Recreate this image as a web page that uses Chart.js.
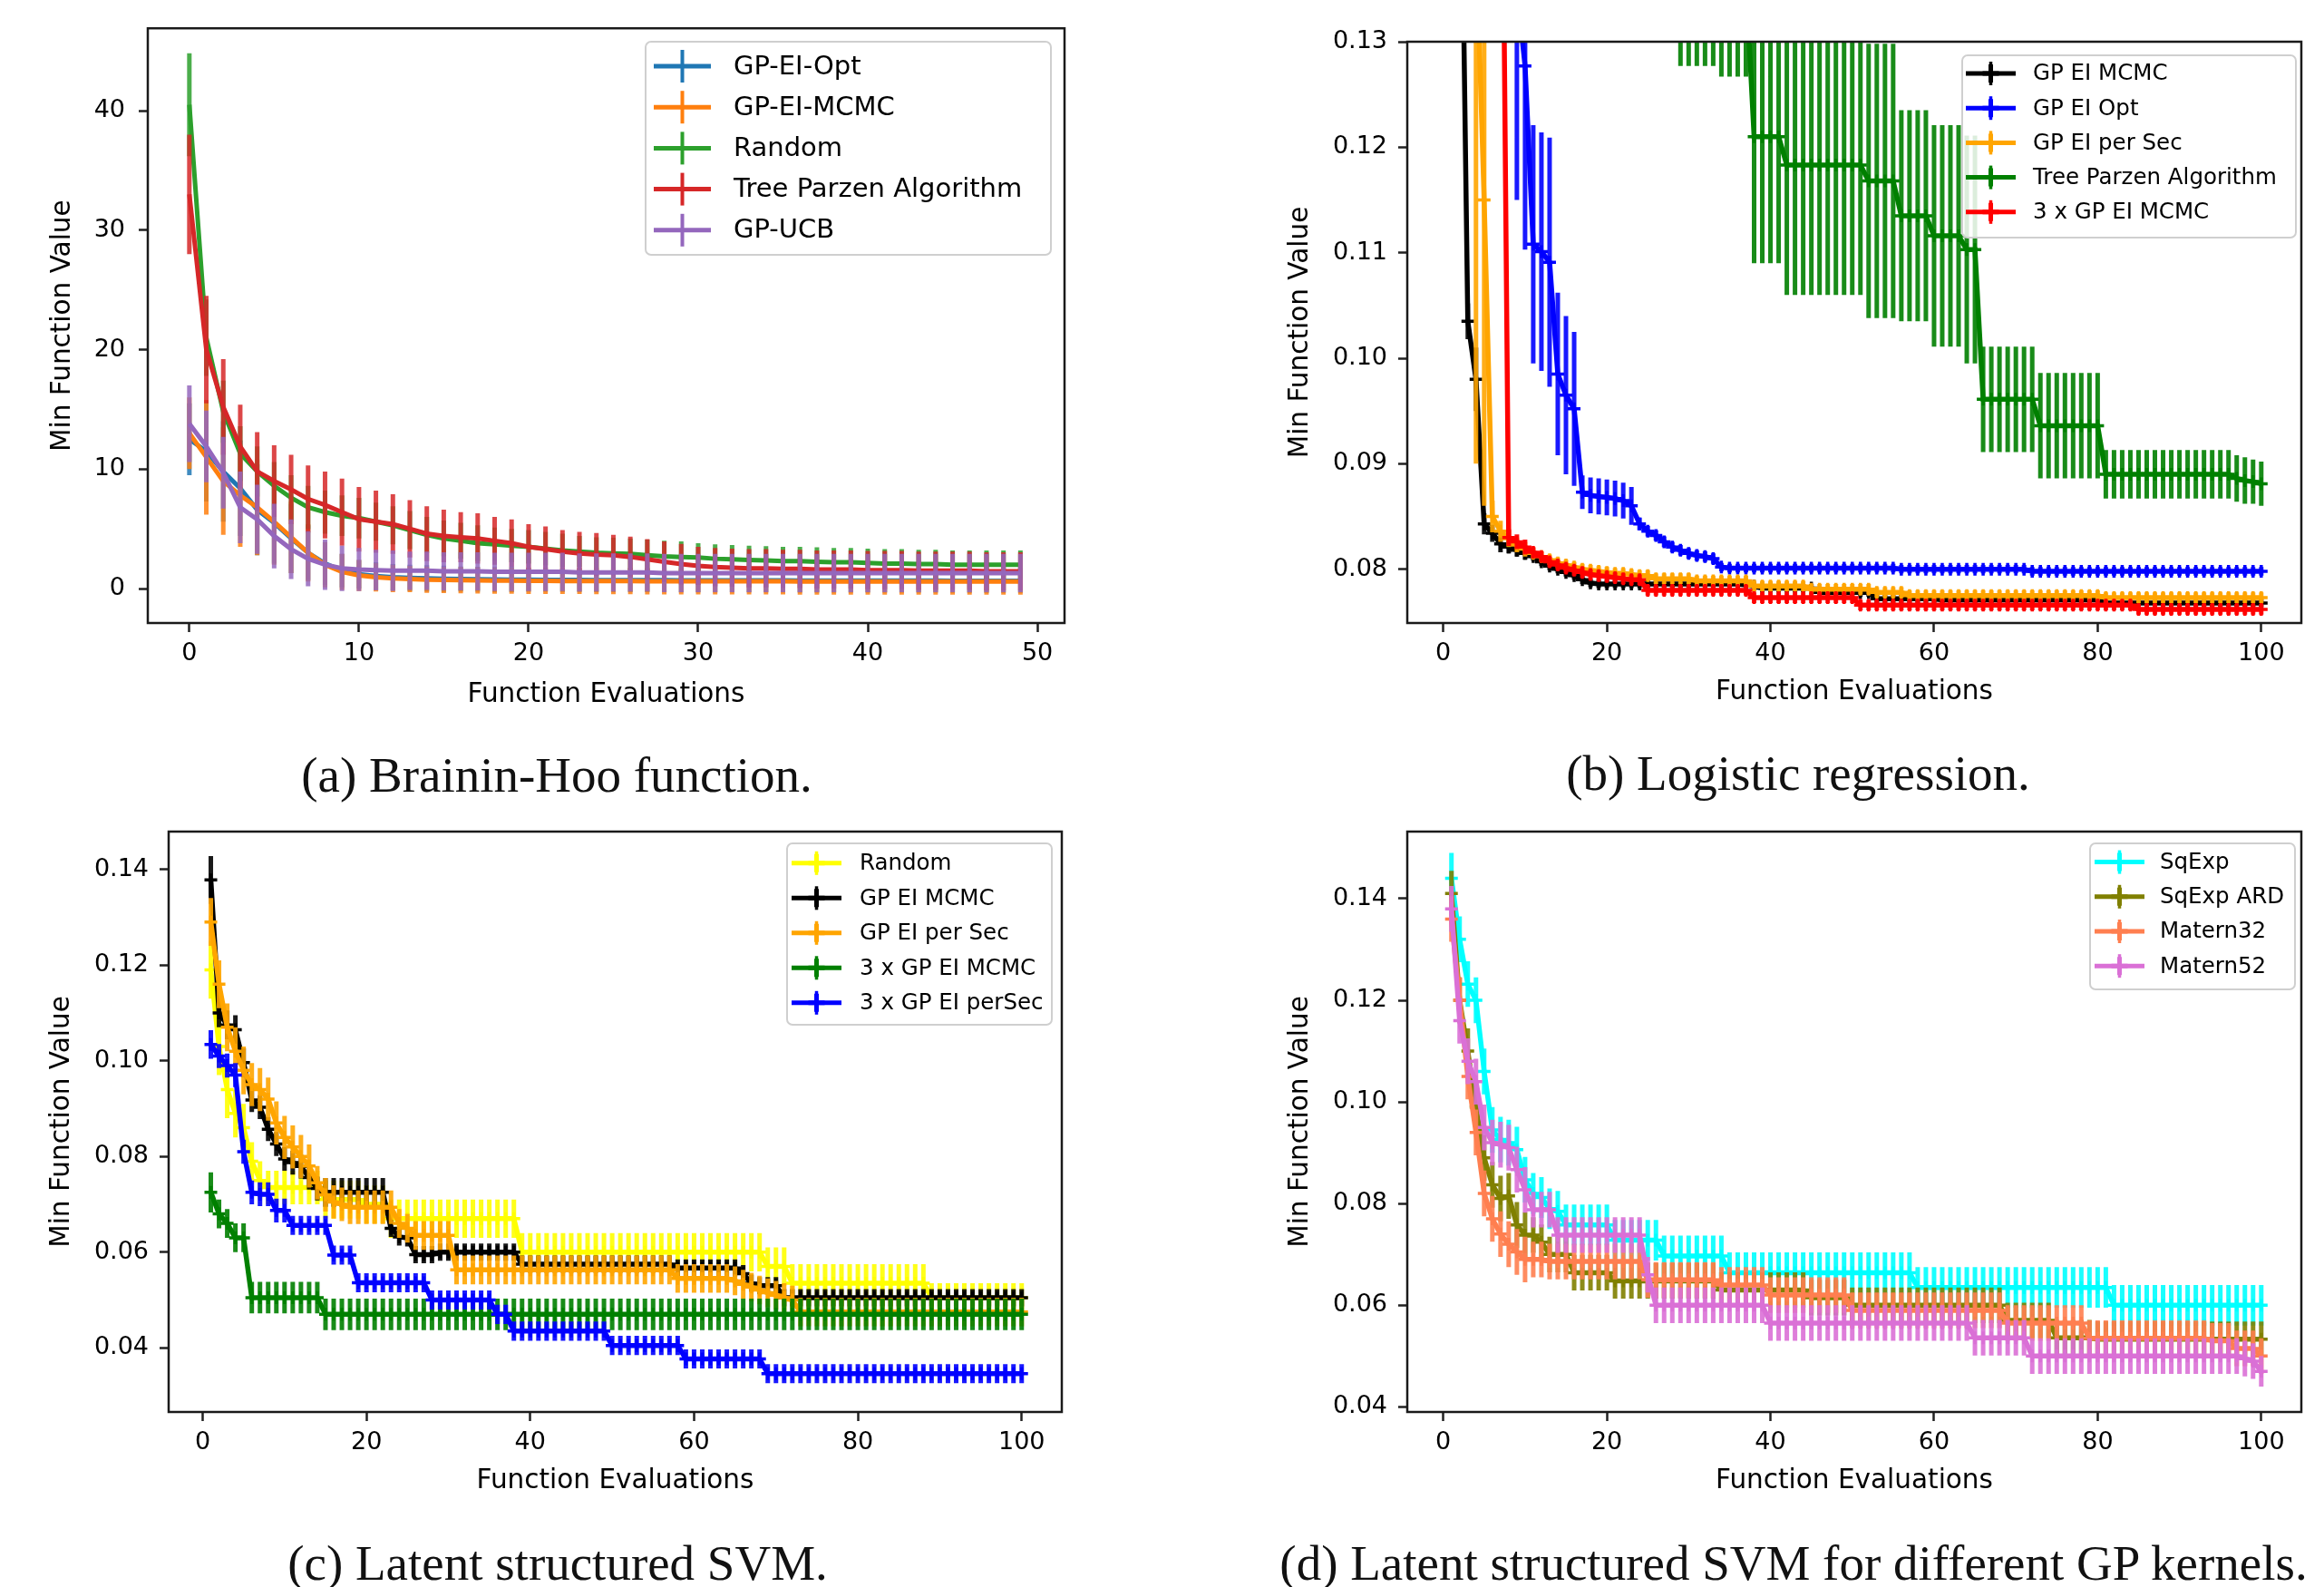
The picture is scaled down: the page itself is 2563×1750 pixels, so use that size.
<!DOCTYPE html>
<html>
<head>
<meta charset="utf-8">
<script src="https://cdn.jsdelivr.net/npm/chart.js@4.4.1/dist/chart.umd.min.js"></script>
<style>
  html, body { margin: 0; padding: 0; background: #fff; }
  body { width: 2563px; height: 1750px; position: relative; overflow: hidden; }
  canvas { position: absolute; }
  .cap { position: absolute; font-family: 'Liberation Serif', serif; font-size: 55px; line-height: 64px; white-space: nowrap; transform: translateX(-50%); color: #111; }
</style>
</head>
<body>
<canvas id="chartA" width="1230" height="810" style="left:0;top:0"></canvas>
<canvas id="chartB" width="1263" height="810" style="left:1300px;top:0"></canvas>
<canvas id="chartC" width="1230" height="810" style="left:0;top:880px"></canvas>
<canvas id="chartD" width="1263" height="810" style="left:1300px;top:880px"></canvas>
<div class="cap" style="left:614px;top:823px">(a) Brainin-Hoo function.</div>
<div class="cap" style="left:1983px;top:821px">(b) Logistic regression.</div>
<div class="cap" style="left:615px;top:1692px">(c) Latent structured SVM.</div>
<div class="cap" style="left:1978px;top:1692px">(d) Latent structured SVM for different GP kernels.</div>
<script>
// ---- shared axis data
const evalsA = [
  0, 1, 2, 3, 4, 5, 6, 7, 8, 9,
  10, 11, 12, 13, 14, 15, 16, 17, 18, 19,
  20, 21, 22, 23, 24, 25, 26, 27, 28, 29,
  30, 31, 32, 33, 34, 35, 36, 37, 38, 39,
  40, 41, 42, 43, 44, 45, 46, 47, 48, 49];
const evalsN = [
  1, 2, 3, 4, 5, 6, 7, 8, 9, 10,
  11, 12, 13, 14, 15, 16, 17, 18, 19, 20,
  21, 22, 23, 24, 25, 26, 27, 28, 29, 30,
  31, 32, 33, 34, 35, 36, 37, 38, 39, 40,
  41, 42, 43, 44, 45, 46, 47, 48, 49, 50,
  51, 52, 53, 54, 55, 56, 57, 58, 59, 60,
  61, 62, 63, 64, 65, 66, 67, 68, 69, 70,
  71, 72, 73, 74, 75, 76, 77, 78, 79, 80,
  81, 82, 83, 84, 85, 86, 87, 88, 89, 90,
  91, 92, 93, 94, 95, 96, 97, 98, 99, 100];

const xTicksA = [0, 10, 20, 30, 40, 50];
const yTicksA = [0, 10, 20, 30, 40];
const xTicksN = [0, 20, 40, 60, 80, 100];
const yTicksB = [0.08, 0.09, 0.10, 0.11, 0.12, 0.13];
const yTicksC = [0.04, 0.06, 0.08, 0.10, 0.12, 0.14];
const yTicksD = [0.04, 0.06, 0.08, 0.10, 0.12, 0.14];

// ---- (a) Brainin-Hoo
const optA = [
  12.5, 11.5, 9.8, 8.4, 6.6, 5.5, 4.2, 3.0, 2.1, 1.5,
  1.2, 1.05, 0.95, 0.9, 0.85, 0.82, 0.8, 0.78, 0.76, 0.75,
  0.74, 0.73, 0.72, 0.72, 0.71, 0.71, 0.7, 0.7, 0.7, 0.69,
  0.69, 0.69, 0.68, 0.68, 0.68, 0.68, 0.67, 0.67, 0.67, 0.67,
  0.66, 0.66, 0.66, 0.66, 0.66, 0.65, 0.65, 0.65, 0.65, 0.65];
const optErrA = [
  3.0, 4.2, 4.2, 4.0, 3.8, 3.4, 2.9, 2.3, 1.8, 1.4,
  1.2, 1.15, 1.1, 1.1, 1.1, 1.1, 1.05, 1.05, 1.05, 1.05,
  1.0, 1.0, 1.0, 1.0, 1.0, 1.0, 1.0, 1.0, 1.0, 1.0,
  1.0, 1.0, 1.0, 1.0, 1.0, 1.0, 1.0, 1.0, 1.0, 1.0,
  1.0, 1.0, 1.0, 1.0, 1.0, 1.0, 1.0, 1.0, 1.0, 1.0];
const mcmcA = [
  13.0, 11.0, 9.0, 7.8, 6.8, 5.6, 4.3, 3.0, 2.0, 1.4,
  1.1, 0.95, 0.85, 0.8, 0.75, 0.72, 0.7, 0.68, 0.67, 0.66,
  0.65, 0.65, 0.64, 0.64, 0.63, 0.63, 0.63, 0.62, 0.62, 0.62,
  0.62, 0.61, 0.61, 0.61, 0.61, 0.61, 0.6, 0.6, 0.6, 0.6,
  0.6, 0.6, 0.6, 0.6, 0.6, 0.6, 0.6, 0.6, 0.6, 0.6];
const mcmcErrA = [
  3.0, 4.8, 4.5, 4.3, 4.0, 3.6, 3.0, 2.4, 1.9, 1.5,
  1.3, 1.2, 1.15, 1.1, 1.1, 1.1, 1.1, 1.1, 1.1, 1.1,
  1.1, 1.1, 1.1, 1.1, 1.1, 1.1, 1.1, 1.1, 1.1, 1.1,
  1.1, 1.1, 1.1, 1.1, 1.1, 1.1, 1.1, 1.1, 1.1, 1.1,
  1.1, 1.1, 1.1, 1.1, 1.1, 1.1, 1.1, 1.1, 1.1, 1.1];
const randomA = [
  40.5, 21.0, 14.8, 11.3, 9.8, 8.6, 7.6, 6.8, 6.4, 6.1,
  5.9, 5.6, 5.3, 4.9, 4.5, 4.2, 4.0, 3.8, 3.7, 3.6,
  3.5, 3.35, 3.2, 3.1, 3.0, 2.95, 2.9, 2.8, 2.7, 2.65,
  2.6, 2.5, 2.45, 2.4, 2.35, 2.3, 2.3, 2.25, 2.2, 2.2,
  2.15, 2.1, 2.1, 2.05, 2.05, 2.0, 2.0, 2.0, 2.0, 2.0];
const randomErrA = [
  4.3, 3.2, 2.6, 2.3, 2.1, 2.0, 1.9, 1.8, 1.8, 1.7,
  1.7, 1.6, 1.6, 1.6, 1.5, 1.5, 1.5, 1.5, 1.4, 1.4,
  1.4, 1.4, 1.4, 1.3, 1.3, 1.3, 1.3, 1.3, 1.3, 1.3,
  1.2, 1.2, 1.2, 1.2, 1.2, 1.2, 1.2, 1.2, 1.2, 1.2,
  1.2, 1.2, 1.2, 1.2, 1.2, 1.2, 1.2, 1.2, 1.2, 1.2];
const tpaA = [
  33.0, 20.0, 15.2, 11.9, 9.8, 9.0, 8.3, 7.5, 7.0, 6.4,
  5.8, 5.6, 5.4, 5.0, 4.6, 4.4, 4.3, 4.2, 4.0, 3.8,
  3.5, 3.3, 3.1, 2.95, 2.85, 2.8, 2.65, 2.45, 2.25, 2.05,
  1.9, 1.8, 1.75, 1.7, 1.7, 1.65, 1.65, 1.6, 1.6, 1.6,
  1.55, 1.55, 1.55, 1.5, 1.5, 1.5, 1.5, 1.45, 1.45, 1.45];
const tpaErrA = [
  5.0, 4.5, 4.0, 3.5, 3.3, 3.0, 2.9, 2.8, 2.8, 2.8,
  2.7, 2.6, 2.5, 2.4, 2.3, 2.2, 2.1, 2.1, 2.0, 2.0,
  1.9, 1.9, 1.8, 1.8, 1.8, 1.7, 1.7, 1.7, 1.7, 1.7,
  1.6, 1.6, 1.6, 1.6, 1.6, 1.6, 1.6, 1.6, 1.6, 1.6,
  1.6, 1.6, 1.6, 1.6, 1.6, 1.6, 1.6, 1.6, 1.6, 1.6];
const ucbA = [
  13.8, 11.9, 9.7, 6.8, 5.8, 4.4, 3.3, 2.5, 2.0, 1.7,
  1.6, 1.55, 1.5, 1.5, 1.5, 1.45, 1.45, 1.45, 1.4, 1.4,
  1.4, 1.4, 1.4, 1.35, 1.35, 1.35, 1.35, 1.35, 1.3, 1.3,
  1.3, 1.3, 1.3, 1.3, 1.3, 1.3, 1.3, 1.3, 1.3, 1.3,
  1.3, 1.3, 1.3, 1.3, 1.3, 1.3, 1.3, 1.3, 1.3, 1.3];
const ucbErrA = [
  3.2, 3.0, 3.0, 3.0, 2.9, 2.7, 2.5, 2.3, 2.1, 1.9,
  1.8, 1.7, 1.7, 1.6, 1.6, 1.6, 1.6, 1.6, 1.6, 1.6,
  1.6, 1.6, 1.6, 1.6, 1.6, 1.6, 1.6, 1.6, 1.6, 1.6,
  1.6, 1.6, 1.6, 1.6, 1.6, 1.6, 1.6, 1.6, 1.6, 1.6,
  1.6, 1.6, 1.6, 1.6, 1.6, 1.6, 1.6, 1.6, 1.6, 1.6];

// ---- (b) Logistic regression
const mcmcB = [
  0.200, 0.160, 0.1035, 0.0980, 0.0843, 0.0834, 0.0824, 0.0821, 0.0818, 0.0815,
  0.0812, 0.0807, 0.0803, 0.0800, 0.0797, 0.0794, 0.0790, 0.0787, 0.0786, 0.0786,
  0.0786, 0.0786, 0.0786, 0.0786, 0.0786, 0.0786, 0.0786, 0.0786, 0.0786, 0.0786,
  0.0786, 0.0786, 0.0786, 0.0786, 0.0786, 0.0786, 0.0785, 0.0784, 0.0782, 0.0782,
  0.0782, 0.0782, 0.0782, 0.0782, 0.0782, 0.0778, 0.0778, 0.0778, 0.0778, 0.0778,
  0.0778, 0.0778, 0.0772, 0.0772, 0.0772, 0.0772, 0.0772, 0.0772, 0.0772, 0.0772,
  0.0771, 0.0771, 0.0771, 0.0771, 0.0771, 0.0771, 0.0771, 0.0771, 0.0771, 0.0771,
  0.0771, 0.0771, 0.0771, 0.0771, 0.0771, 0.0771, 0.0771, 0.0771, 0.0771, 0.0771,
  0.0768, 0.0768, 0.0768, 0.0768, 0.0768, 0.0768, 0.0768, 0.0768, 0.0768, 0.0768,
  0.0768, 0.0768, 0.0768, 0.0768, 0.0768, 0.0768, 0.0768, 0.0768, 0.0768, 0.0768];
const mcmcErrB = [
  0.03, 0.02, 0.0017, 0.003, 0.001, 0.0008, 0.0008, 0.0006, 0.0006, 0.0006,
  0.0004, 0.0004, 0.0004, 0.0004, 0.0004, 0.0004, 0.0004, 0.0004, 0.0004, 0.0004,
  0.0004, 0.0004, 0.0004, 0.0004, 0.0004, 0.0004, 0.0004, 0.0004, 0.0004, 0.0004,
  0.0004, 0.0004, 0.0004, 0.0004, 0.0004, 0.0004, 0.0004, 0.0004, 0.0004, 0.0004,
  0.0004, 0.0004, 0.0004, 0.0004, 0.0004, 0.0004, 0.0004, 0.0004, 0.0004, 0.0004,
  0.0004, 0.0004, 0.0004, 0.0004, 0.0004, 0.0004, 0.0004, 0.0004, 0.0004, 0.0004,
  0.0004, 0.0004, 0.0004, 0.0004, 0.0004, 0.0004, 0.0004, 0.0004, 0.0004, 0.0004,
  0.0004, 0.0004, 0.0004, 0.0004, 0.0004, 0.0004, 0.0004, 0.0004, 0.0004, 0.0004,
  0.0004, 0.0004, 0.0004, 0.0004, 0.0004, 0.0004, 0.0004, 0.0004, 0.0004, 0.0004,
  0.0004, 0.0004, 0.0004, 0.0004, 0.0004, 0.0004, 0.0004, 0.0004, 0.0004, 0.0004];
const optB = [
  0.250, 0.240, 0.230, 0.220, 0.205, 0.190, 0.175, 0.155, 0.135, 0.1277,
  0.1108, 0.1101, 0.1091, 0.0985, 0.0965, 0.0952, 0.0873, 0.0870, 0.0869, 0.0868,
  0.0867, 0.0865, 0.0860, 0.0843, 0.0836, 0.0832, 0.0826, 0.0821, 0.0818, 0.0815,
  0.0813, 0.0812, 0.0810, 0.0802, 0.0801, 0.0801, 0.0801, 0.0801, 0.0801, 0.0801,
  0.0801, 0.0801, 0.0801, 0.0801, 0.0801, 0.0801, 0.0801, 0.0801, 0.0801, 0.0801,
  0.0801, 0.0801, 0.0801, 0.0801, 0.0801, 0.0800, 0.0800, 0.0800, 0.0800, 0.0800,
  0.0800, 0.0800, 0.0800, 0.0800, 0.0800, 0.0800, 0.0800, 0.0800, 0.0800, 0.0800,
  0.0800, 0.0798, 0.0798, 0.0798, 0.0798, 0.0798, 0.0798, 0.0798, 0.0798, 0.0798,
  0.0798, 0.0798, 0.0798, 0.0798, 0.0798, 0.0798, 0.0798, 0.0798, 0.0798, 0.0798,
  0.0798, 0.0798, 0.0798, 0.0798, 0.0798, 0.0798, 0.0798, 0.0798, 0.0798, 0.0798];
const optErrB = [
  0.02, 0.02, 0.02, 0.02, 0.02, 0.02, 0.02, 0.02, 0.0200, 0.0174,
  0.0113, 0.0113, 0.0118, 0.0077, 0.0075, 0.0073, 0.0016, 0.0017, 0.0017, 0.0017,
  0.0017, 0.0017, 0.0018, 0.0006, 0.0005, 0.0005, 0.0005, 0.0005, 0.0005, 0.0005,
  0.0005, 0.0005, 0.0005, 0.0004, 0.0004, 0.0004, 0.0004, 0.0004, 0.0004, 0.0004,
  0.0004, 0.0004, 0.0004, 0.0004, 0.0004, 0.0004, 0.0004, 0.0004, 0.0004, 0.0004,
  0.0004, 0.0004, 0.0004, 0.0004, 0.0004, 0.0004, 0.0004, 0.0004, 0.0004, 0.0004,
  0.0004, 0.0004, 0.0004, 0.0004, 0.0004, 0.0004, 0.0004, 0.0004, 0.0004, 0.0004,
  0.0004, 0.0004, 0.0004, 0.0004, 0.0004, 0.0004, 0.0004, 0.0004, 0.0004, 0.0004,
  0.0004, 0.0004, 0.0004, 0.0004, 0.0004, 0.0004, 0.0004, 0.0004, 0.0004, 0.0004,
  0.0004, 0.0004, 0.0004, 0.0004, 0.0004, 0.0004, 0.0004, 0.0004, 0.0004, 0.0004];
const perSecB = [
  0.250, 0.220, 0.180, 0.140, 0.115, 0.0850, 0.0836, 0.0829, 0.0823, 0.0819,
  0.0815, 0.0812, 0.0809, 0.0806, 0.0804, 0.0802, 0.0800, 0.0799, 0.0798, 0.0797,
  0.0796, 0.0796, 0.0795, 0.0794, 0.0794, 0.0791, 0.0791, 0.0791, 0.0791, 0.0791,
  0.0789, 0.0789, 0.0789, 0.0789, 0.0789, 0.0789, 0.0789, 0.0784, 0.0784, 0.0784,
  0.0784, 0.0784, 0.0784, 0.0784, 0.0781, 0.0781, 0.0781, 0.0781, 0.0781, 0.0781,
  0.0781, 0.0781, 0.0778, 0.0778, 0.0778, 0.0778, 0.0775, 0.0775, 0.0775, 0.0775,
  0.0775, 0.0775, 0.0775, 0.0775, 0.0775, 0.0775, 0.0775, 0.0775, 0.0775, 0.0775,
  0.0775, 0.0775, 0.0775, 0.0775, 0.0775, 0.0775, 0.0775, 0.0775, 0.0775, 0.0775,
  0.0773, 0.0773, 0.0773, 0.0773, 0.0773, 0.0773, 0.0773, 0.0773, 0.0773, 0.0773,
  0.0773, 0.0773, 0.0773, 0.0773, 0.0773, 0.0773, 0.0773, 0.0773, 0.0773, 0.0773];
const perSecErrB = [
  0.05, 0.05, 0.05, 0.05, 0.029, 0.0015, 0.0010, 0.0008, 0.0007, 0.0007,
  0.0005, 0.0005, 0.0005, 0.0005, 0.0005, 0.0005, 0.0005, 0.0005, 0.0005, 0.0005,
  0.0005, 0.0005, 0.0005, 0.0005, 0.0005, 0.0005, 0.0005, 0.0005, 0.0005, 0.0005,
  0.0005, 0.0005, 0.0005, 0.0005, 0.0005, 0.0005, 0.0005, 0.0005, 0.0005, 0.0005,
  0.0005, 0.0005, 0.0005, 0.0005, 0.0005, 0.0005, 0.0005, 0.0005, 0.0005, 0.0005,
  0.0005, 0.0005, 0.0005, 0.0005, 0.0005, 0.0005, 0.0005, 0.0005, 0.0005, 0.0005,
  0.0005, 0.0005, 0.0005, 0.0005, 0.0005, 0.0005, 0.0005, 0.0005, 0.0005, 0.0005,
  0.0005, 0.0005, 0.0005, 0.0005, 0.0005, 0.0005, 0.0005, 0.0005, 0.0005, 0.0005,
  0.0005, 0.0005, 0.0005, 0.0005, 0.0005, 0.0005, 0.0005, 0.0005, 0.0005, 0.0005,
  0.0005, 0.0005, 0.0005, 0.0005, 0.0005, 0.0005, 0.0005, 0.0005, 0.0005, 0.0005];
const tpaB = [
  0.170, 0.170, 0.170, 0.170, 0.170, 0.170, 0.170, 0.170, 0.170, 0.170,
  0.160, 0.160, 0.160, 0.160, 0.160, 0.160, 0.160, 0.160, 0.160, 0.160,
  0.150, 0.150, 0.150, 0.150, 0.150, 0.150, 0.150, 0.150, 0.1370, 0.1370,
  0.1370, 0.1370, 0.1370, 0.1360, 0.1360, 0.1360, 0.1360, 0.1210, 0.1210, 0.1210,
  0.1210, 0.1183, 0.1183, 0.1183, 0.1183, 0.1183, 0.1183, 0.1183, 0.1183, 0.1183,
  0.1183, 0.1168, 0.1168, 0.1168, 0.1168, 0.1135, 0.1135, 0.1135, 0.1135, 0.1116,
  0.1116, 0.1116, 0.1116, 0.1103, 0.1103, 0.0961, 0.0961, 0.0961, 0.0961, 0.0961,
  0.0961, 0.0961, 0.0936, 0.0936, 0.0936, 0.0936, 0.0936, 0.0936, 0.0936, 0.0936,
  0.0890, 0.0890, 0.0890, 0.0890, 0.0890, 0.0890, 0.0890, 0.0890, 0.0890, 0.0890,
  0.0890, 0.0890, 0.0890, 0.0890, 0.0890, 0.0890, 0.0886, 0.0884, 0.0883, 0.0881];
const tpaErrB = [
  0.012, 0.012, 0.012, 0.012, 0.012, 0.012, 0.012, 0.012, 0.012, 0.012,
  0.012, 0.012, 0.012, 0.012, 0.012, 0.012, 0.012, 0.012, 0.012, 0.012,
  0.012, 0.012, 0.012, 0.012, 0.012, 0.012, 0.012, 0.012, 0.0093, 0.0093,
  0.0093, 0.0093, 0.0093, 0.0093, 0.0093, 0.0093, 0.0093, 0.012, 0.012, 0.012,
  0.012, 0.0123, 0.0123, 0.0123, 0.0123, 0.0123, 0.0123, 0.0123, 0.0123, 0.0123,
  0.0123, 0.0130, 0.0130, 0.0130, 0.0130, 0.0100, 0.0100, 0.0100, 0.0100, 0.0105,
  0.0105, 0.0105, 0.0105, 0.0108, 0.0108, 0.0050, 0.0050, 0.0050, 0.0050, 0.0050,
  0.0050, 0.0050, 0.0050, 0.0050, 0.0050, 0.0050, 0.0050, 0.0050, 0.0050, 0.0050,
  0.0023, 0.0023, 0.0023, 0.0023, 0.0023, 0.0023, 0.0023, 0.0023, 0.0023, 0.0023,
  0.0023, 0.0023, 0.0023, 0.0023, 0.0023, 0.0023, 0.0022, 0.0022, 0.0021, 0.0021];
const mcmc3B = [
  0.300, 0.280, 0.260, 0.240, 0.220, 0.200, 0.170, 0.0830, 0.0826, 0.0821,
  0.0816, 0.0812, 0.0807, 0.0804, 0.0801, 0.0799, 0.0797, 0.0795, 0.0794, 0.0793,
  0.0792, 0.0791, 0.0790, 0.0790, 0.0780, 0.0780, 0.0780, 0.0780, 0.0780, 0.0780,
  0.0780, 0.0780, 0.0780, 0.0780, 0.0780, 0.0780, 0.0780, 0.0773, 0.0773, 0.0773,
  0.0773, 0.0773, 0.0773, 0.0773, 0.0773, 0.0773, 0.0773, 0.0773, 0.0773, 0.0773,
  0.0766, 0.0766, 0.0766, 0.0766, 0.0766, 0.0766, 0.0766, 0.0766, 0.0766, 0.0766,
  0.0766, 0.0766, 0.0766, 0.0766, 0.0766, 0.0766, 0.0766, 0.0766, 0.0766, 0.0766,
  0.0766, 0.0766, 0.0766, 0.0766, 0.0766, 0.0766, 0.0766, 0.0766, 0.0766, 0.0766,
  0.0766, 0.0766, 0.0766, 0.0766, 0.0762, 0.0762, 0.0762, 0.0762, 0.0762, 0.0762,
  0.0762, 0.0762, 0.0762, 0.0762, 0.0762, 0.0762, 0.0762, 0.0762, 0.0762, 0.0762];
const mcmc3ErrB = [
  0.02, 0.02, 0.02, 0.02, 0.02, 0.02, 0.02, 0.0008, 0.0007, 0.0007,
  0.0005, 0.0005, 0.0005, 0.0005, 0.0005, 0.0005, 0.0005, 0.0005, 0.0005, 0.0005,
  0.0005, 0.0005, 0.0005, 0.0005, 0.0005, 0.0005, 0.0005, 0.0005, 0.0005, 0.0005,
  0.0005, 0.0005, 0.0005, 0.0005, 0.0005, 0.0005, 0.0005, 0.0005, 0.0005, 0.0005,
  0.0005, 0.0005, 0.0005, 0.0005, 0.0005, 0.0005, 0.0005, 0.0005, 0.0005, 0.0005,
  0.0005, 0.0005, 0.0005, 0.0005, 0.0005, 0.0005, 0.0005, 0.0005, 0.0005, 0.0005,
  0.0005, 0.0005, 0.0005, 0.0005, 0.0005, 0.0005, 0.0005, 0.0005, 0.0005, 0.0005,
  0.0005, 0.0005, 0.0005, 0.0005, 0.0005, 0.0005, 0.0005, 0.0005, 0.0005, 0.0005,
  0.0005, 0.0005, 0.0005, 0.0005, 0.0005, 0.0005, 0.0005, 0.0005, 0.0005, 0.0005,
  0.0005, 0.0005, 0.0005, 0.0005, 0.0005, 0.0005, 0.0005, 0.0005, 0.0005, 0.0005];

// ---- (c) Latent structured SVM
const randomC = [
  0.119, 0.103, 0.094, 0.089, 0.086, 0.079, 0.075, 0.0735, 0.0735, 0.0735,
  0.0735, 0.0735, 0.0735, 0.0735, 0.0710, 0.0710, 0.0710, 0.0710, 0.0710, 0.0700,
  0.0700, 0.0700, 0.0670, 0.0670, 0.0670, 0.0670, 0.0670, 0.0670, 0.0670, 0.0670,
  0.0670, 0.0670, 0.0670, 0.0670, 0.0670, 0.0670, 0.0670, 0.0670, 0.0600, 0.0600,
  0.0600, 0.0600, 0.0600, 0.0600, 0.0600, 0.0600, 0.0600, 0.0600, 0.0600, 0.0600,
  0.0600, 0.0600, 0.0600, 0.0600, 0.0600, 0.0600, 0.0600, 0.0600, 0.0600, 0.0600,
  0.0600, 0.0600, 0.0600, 0.0600, 0.0600, 0.0600, 0.0600, 0.0600, 0.0570, 0.0570,
  0.0570, 0.0535, 0.0535, 0.0535, 0.0535, 0.0535, 0.0535, 0.0535, 0.0535, 0.0535,
  0.0535, 0.0535, 0.0535, 0.0535, 0.0535, 0.0535, 0.0535, 0.0535, 0.0505, 0.0505,
  0.0505, 0.0505, 0.0505, 0.0505, 0.0505, 0.0505, 0.0505, 0.0505, 0.0505, 0.0505];
const randomErrC = [
  0.006, 0.006, 0.006, 0.005, 0.005, 0.004, 0.004, 0.0035, 0.0035, 0.0035,
  0.0035, 0.0035, 0.0035, 0.0035, 0.004, 0.004, 0.004, 0.004, 0.004, 0.004,
  0.004, 0.004, 0.004, 0.004, 0.004, 0.004, 0.004, 0.004, 0.004, 0.004,
  0.004, 0.004, 0.004, 0.004, 0.004, 0.004, 0.004, 0.004, 0.004, 0.004,
  0.004, 0.004, 0.004, 0.004, 0.004, 0.004, 0.004, 0.004, 0.004, 0.004,
  0.004, 0.004, 0.004, 0.004, 0.004, 0.004, 0.004, 0.004, 0.004, 0.004,
  0.004, 0.004, 0.004, 0.004, 0.004, 0.004, 0.004, 0.004, 0.004, 0.004,
  0.004, 0.004, 0.004, 0.004, 0.004, 0.004, 0.004, 0.004, 0.004, 0.004,
  0.004, 0.004, 0.004, 0.004, 0.004, 0.004, 0.004, 0.004, 0.003, 0.003,
  0.003, 0.003, 0.003, 0.003, 0.003, 0.003, 0.003, 0.003, 0.003, 0.003];
const mcmcC = [
  0.1378, 0.1100, 0.1075, 0.1065, 0.0996, 0.0918, 0.0903, 0.0857, 0.0826, 0.0795,
  0.0787, 0.0779, 0.0756, 0.0733, 0.0725, 0.0725, 0.0725, 0.0725, 0.0725, 0.0725,
  0.0725, 0.0725, 0.0650, 0.0632, 0.0630, 0.0595, 0.0595, 0.0595, 0.0600, 0.0600,
  0.0600, 0.0600, 0.0600, 0.0600, 0.0600, 0.0600, 0.0600, 0.0600, 0.0575, 0.0575,
  0.0575, 0.0575, 0.0575, 0.0575, 0.0575, 0.0575, 0.0575, 0.0575, 0.0575, 0.0575,
  0.0575, 0.0575, 0.0575, 0.0575, 0.0575, 0.0575, 0.0575, 0.0567, 0.0567, 0.0567,
  0.0567, 0.0567, 0.0567, 0.0567, 0.0567, 0.0555, 0.0535, 0.0530, 0.0530, 0.0530,
  0.0505, 0.0505, 0.0505, 0.0505, 0.0505, 0.0505, 0.0505, 0.0505, 0.0505, 0.0505,
  0.0505, 0.0505, 0.0505, 0.0505, 0.0505, 0.0505, 0.0505, 0.0505, 0.0505, 0.0505,
  0.0505, 0.0505, 0.0505, 0.0505, 0.0505, 0.0505, 0.0505, 0.0505, 0.0505, 0.0505];
const mcmcErrC = [
  0.005, 0.003, 0.003, 0.003, 0.003, 0.0025, 0.0025, 0.0025, 0.0025, 0.0025,
  0.0025, 0.0025, 0.0025, 0.0025, 0.003, 0.003, 0.003, 0.003, 0.003, 0.003,
  0.003, 0.003, 0.0018, 0.0018, 0.0018, 0.0018, 0.0018, 0.0018, 0.0018, 0.0018,
  0.0018, 0.0018, 0.0018, 0.0018, 0.0018, 0.0018, 0.0018, 0.0018, 0.0018, 0.0018,
  0.0018, 0.0018, 0.0018, 0.0018, 0.0018, 0.0018, 0.0018, 0.0018, 0.0018, 0.0018,
  0.0018, 0.0018, 0.0018, 0.0018, 0.0018, 0.0018, 0.0018, 0.0018, 0.0018, 0.0018,
  0.0018, 0.0018, 0.0018, 0.0018, 0.0018, 0.0018, 0.0018, 0.0018, 0.0018, 0.0018,
  0.0018, 0.0018, 0.0018, 0.0018, 0.0018, 0.0018, 0.0018, 0.0018, 0.0018, 0.0018,
  0.0018, 0.0018, 0.0018, 0.0018, 0.0018, 0.0018, 0.0018, 0.0018, 0.0018, 0.0018,
  0.0018, 0.0018, 0.0018, 0.0018, 0.0018, 0.0018, 0.0018, 0.0018, 0.0018, 0.0018];
const perSecC = [
  0.129, 0.116, 0.107, 0.102, 0.098, 0.095, 0.094, 0.092, 0.087, 0.084,
  0.082, 0.080, 0.078, 0.0745, 0.072, 0.0705, 0.070, 0.0694, 0.0694, 0.0694,
  0.0694, 0.0694, 0.0694, 0.066, 0.065, 0.0635, 0.0635, 0.0635, 0.0635, 0.0635,
  0.0563, 0.0563, 0.0563, 0.0563, 0.0563, 0.0563, 0.0563, 0.0563, 0.0563, 0.0563,
  0.0563, 0.0563, 0.0563, 0.0563, 0.0563, 0.0563, 0.0563, 0.0563, 0.0563, 0.0563,
  0.0563, 0.0563, 0.0563, 0.0563, 0.0563, 0.0563, 0.0563, 0.0545, 0.0545, 0.0545,
  0.0545, 0.0545, 0.0545, 0.0545, 0.0540, 0.0533, 0.0527, 0.0521, 0.0515, 0.0510,
  0.0505, 0.0500, 0.0475, 0.0475, 0.0475, 0.0475, 0.0475, 0.0475, 0.0475, 0.0475,
  0.0475, 0.0475, 0.0475, 0.0475, 0.0475, 0.0475, 0.0475, 0.0475, 0.0475, 0.0475,
  0.0475, 0.0475, 0.0475, 0.0475, 0.0475, 0.0475, 0.0475, 0.0475, 0.0475, 0.0475];
const perSecErrC = [
  0.005, 0.005, 0.005, 0.005, 0.005, 0.0045, 0.0045, 0.0045, 0.0045, 0.0045,
  0.0045, 0.0045, 0.0045, 0.0035, 0.0035, 0.0035, 0.0035, 0.0035, 0.0035, 0.0035,
  0.0035, 0.0035, 0.0035, 0.003, 0.003, 0.003, 0.003, 0.003, 0.003, 0.003,
  0.003, 0.003, 0.003, 0.003, 0.003, 0.003, 0.003, 0.003, 0.003, 0.003,
  0.003, 0.003, 0.003, 0.003, 0.003, 0.003, 0.003, 0.003, 0.003, 0.003,
  0.003, 0.003, 0.003, 0.003, 0.003, 0.003, 0.003, 0.003, 0.003, 0.003,
  0.003, 0.003, 0.003, 0.003, 0.003, 0.003, 0.003, 0.003, 0.003, 0.003,
  0.003, 0.003, 0.003, 0.003, 0.003, 0.003, 0.003, 0.003, 0.003, 0.003,
  0.003, 0.003, 0.003, 0.003, 0.003, 0.003, 0.003, 0.003, 0.003, 0.003,
  0.003, 0.003, 0.003, 0.003, 0.003, 0.003, 0.003, 0.003, 0.003, 0.003];
const mcmc3C = [
  0.0725, 0.068, 0.066, 0.063, 0.063, 0.0505, 0.0505, 0.0505, 0.0505, 0.0505,
  0.0505, 0.0505, 0.0505, 0.0505, 0.0470, 0.0470, 0.0470, 0.0470, 0.0470, 0.0470,
  0.0470, 0.0470, 0.0470, 0.0470, 0.0470, 0.0470, 0.0470, 0.0470, 0.0470, 0.0470,
  0.0470, 0.0470, 0.0470, 0.0470, 0.0470, 0.0470, 0.0470, 0.0470, 0.0470, 0.0470,
  0.0470, 0.0470, 0.0470, 0.0470, 0.0470, 0.0470, 0.0470, 0.0470, 0.0470, 0.0470,
  0.0470, 0.0470, 0.0470, 0.0470, 0.0470, 0.0470, 0.0470, 0.0470, 0.0470, 0.0470,
  0.0470, 0.0470, 0.0470, 0.0470, 0.0470, 0.0470, 0.0470, 0.0470, 0.0470, 0.0470,
  0.0470, 0.0470, 0.0470, 0.0470, 0.0470, 0.0470, 0.0470, 0.0470, 0.0470, 0.0470,
  0.0470, 0.0470, 0.0470, 0.0470, 0.0470, 0.0470, 0.0470, 0.0470, 0.0470, 0.0470,
  0.0470, 0.0470, 0.0470, 0.0470, 0.0470, 0.0470, 0.0470, 0.0470, 0.0470, 0.0470];
const mcmc3ErrC = [
  0.0042, 0.003, 0.003, 0.003, 0.003, 0.0033, 0.0033, 0.0033, 0.0033, 0.0033,
  0.0033, 0.0033, 0.0033, 0.0033, 0.0033, 0.0033, 0.0033, 0.0033, 0.0033, 0.0033,
  0.0033, 0.0033, 0.0033, 0.0033, 0.0033, 0.0033, 0.0033, 0.0033, 0.0033, 0.0033,
  0.0033, 0.0033, 0.0033, 0.0033, 0.0033, 0.0033, 0.0033, 0.0033, 0.0033, 0.0033,
  0.0033, 0.0033, 0.0033, 0.0033, 0.0033, 0.0033, 0.0033, 0.0033, 0.0033, 0.0033,
  0.0033, 0.0033, 0.0033, 0.0033, 0.0033, 0.0033, 0.0033, 0.0033, 0.0033, 0.0033,
  0.0033, 0.0033, 0.0033, 0.0033, 0.0033, 0.0033, 0.0033, 0.0033, 0.0033, 0.0033,
  0.0033, 0.0033, 0.0033, 0.0033, 0.0033, 0.0033, 0.0033, 0.0033, 0.0033, 0.0033,
  0.0033, 0.0033, 0.0033, 0.0033, 0.0033, 0.0033, 0.0033, 0.0033, 0.0033, 0.0033,
  0.0033, 0.0033, 0.0033, 0.0033, 0.0033, 0.0033, 0.0033, 0.0033, 0.0033, 0.0033];
const perSec3C = [
  0.1034, 0.1010, 0.0990, 0.0970, 0.0810, 0.0725, 0.0721, 0.0721, 0.0687, 0.0687,
  0.0656, 0.0656, 0.0656, 0.0656, 0.0656, 0.0594, 0.0594, 0.0594, 0.0536, 0.0536,
  0.0536, 0.0536, 0.0536, 0.0536, 0.0536, 0.0536, 0.0536, 0.0500, 0.0500, 0.0500,
  0.0500, 0.0500, 0.0500, 0.0500, 0.0500, 0.0470, 0.0470, 0.0435, 0.0435, 0.0435,
  0.0435, 0.0435, 0.0435, 0.0435, 0.0435, 0.0435, 0.0435, 0.0435, 0.0435, 0.0405,
  0.0405, 0.0405, 0.0405, 0.0405, 0.0405, 0.0405, 0.0405, 0.0405, 0.0377, 0.0377,
  0.0377, 0.0377, 0.0377, 0.0377, 0.0377, 0.0377, 0.0377, 0.0377, 0.0346, 0.0346,
  0.0346, 0.0346, 0.0346, 0.0346, 0.0346, 0.0346, 0.0346, 0.0346, 0.0346, 0.0346,
  0.0346, 0.0346, 0.0346, 0.0346, 0.0346, 0.0346, 0.0346, 0.0346, 0.0346, 0.0346,
  0.0346, 0.0346, 0.0346, 0.0346, 0.0346, 0.0346, 0.0346, 0.0346, 0.0346, 0.0346];
const perSec3ErrC = [
  0.003, 0.0025, 0.0025, 0.0025, 0.0025, 0.0025, 0.0025, 0.0025, 0.0025, 0.0025,
  0.002, 0.002, 0.002, 0.002, 0.002, 0.002, 0.002, 0.002, 0.002, 0.002,
  0.002, 0.002, 0.002, 0.002, 0.002, 0.002, 0.002, 0.002, 0.002, 0.002,
  0.002, 0.002, 0.002, 0.002, 0.002, 0.002, 0.002, 0.002, 0.002, 0.002,
  0.002, 0.002, 0.002, 0.002, 0.002, 0.002, 0.002, 0.002, 0.002, 0.002,
  0.002, 0.002, 0.002, 0.002, 0.002, 0.002, 0.002, 0.002, 0.002, 0.002,
  0.002, 0.002, 0.002, 0.002, 0.002, 0.002, 0.002, 0.002, 0.002, 0.002,
  0.002, 0.002, 0.002, 0.002, 0.002, 0.002, 0.002, 0.002, 0.002, 0.002,
  0.002, 0.002, 0.002, 0.002, 0.002, 0.002, 0.002, 0.002, 0.002, 0.002,
  0.002, 0.002, 0.002, 0.002, 0.002, 0.002, 0.002, 0.002, 0.002, 0.002];

// ---- (d) GP kernels
const sqExpD = [
  0.1440, 0.1320, 0.1232, 0.1200, 0.1060, 0.0945, 0.0926, 0.0920, 0.0906, 0.0847,
  0.0820, 0.0812, 0.0790, 0.0785, 0.0758, 0.0758, 0.0758, 0.0758, 0.0758, 0.0758,
  0.0728, 0.0728, 0.0728, 0.0728, 0.0728, 0.0728, 0.0697, 0.0697, 0.0697, 0.0697,
  0.0697, 0.0697, 0.0697, 0.0697, 0.0664, 0.0664, 0.0664, 0.0664, 0.0664, 0.0664,
  0.0664, 0.0664, 0.0664, 0.0664, 0.0664, 0.0664, 0.0664, 0.0664, 0.0664, 0.0664,
  0.0664, 0.0664, 0.0664, 0.0664, 0.0664, 0.0664, 0.0664, 0.0635, 0.0635, 0.0635,
  0.0635, 0.0635, 0.0635, 0.0635, 0.0635, 0.0635, 0.0635, 0.0635, 0.0635, 0.0635,
  0.0635, 0.0635, 0.0635, 0.0635, 0.0635, 0.0635, 0.0635, 0.0635, 0.0635, 0.0635,
  0.0635, 0.0600, 0.0600, 0.0600, 0.0600, 0.0600, 0.0600, 0.0600, 0.0600, 0.0600,
  0.0600, 0.0600, 0.0600, 0.0600, 0.0600, 0.0600, 0.0600, 0.0600, 0.0600, 0.0600];
const sqExpErrD = [
  0.005, 0.0045, 0.0045, 0.0045, 0.0045, 0.0045, 0.0045, 0.0045, 0.0045, 0.0045,
  0.004, 0.004, 0.004, 0.004, 0.004, 0.004, 0.004, 0.004, 0.004, 0.004,
  0.004, 0.004, 0.004, 0.004, 0.004, 0.004, 0.004, 0.004, 0.004, 0.004,
  0.004, 0.004, 0.004, 0.004, 0.004, 0.004, 0.004, 0.004, 0.004, 0.004,
  0.004, 0.004, 0.004, 0.004, 0.004, 0.004, 0.004, 0.004, 0.004, 0.004,
  0.004, 0.004, 0.004, 0.004, 0.004, 0.004, 0.004, 0.004, 0.004, 0.004,
  0.004, 0.004, 0.004, 0.004, 0.004, 0.004, 0.004, 0.004, 0.004, 0.004,
  0.004, 0.004, 0.004, 0.004, 0.004, 0.004, 0.004, 0.004, 0.004, 0.004,
  0.004, 0.004, 0.004, 0.004, 0.004, 0.004, 0.004, 0.004, 0.004, 0.004,
  0.004, 0.004, 0.004, 0.004, 0.004, 0.004, 0.004, 0.004, 0.004, 0.004];
const sqExpArdD = [
  0.1410, 0.1200, 0.1100, 0.0990, 0.0890, 0.0837, 0.0810, 0.0815, 0.0758, 0.0738,
  0.0738, 0.0724, 0.0700, 0.0700, 0.0700, 0.0664, 0.0664, 0.0664, 0.0664, 0.0664,
  0.0648, 0.0648, 0.0648, 0.0648, 0.0648, 0.0648, 0.0648, 0.0648, 0.0648, 0.0648,
  0.0648, 0.0648, 0.0648, 0.0630, 0.0630, 0.0630, 0.0630, 0.0630, 0.0630, 0.0630,
  0.0630, 0.0630, 0.0630, 0.0630, 0.0615, 0.0615, 0.0615, 0.0615, 0.0615, 0.0600,
  0.0600, 0.0600, 0.0600, 0.0600, 0.0600, 0.0600, 0.0600, 0.0600, 0.0600, 0.0600,
  0.0600, 0.0600, 0.0600, 0.0600, 0.0600, 0.0600, 0.0600, 0.0600, 0.0570, 0.0570,
  0.0570, 0.0570, 0.0570, 0.0570, 0.0536, 0.0536, 0.0536, 0.0536, 0.0536, 0.0533,
  0.0533, 0.0533, 0.0533, 0.0533, 0.0533, 0.0533, 0.0533, 0.0533, 0.0533, 0.0533,
  0.0533, 0.0533, 0.0533, 0.0533, 0.0533, 0.0533, 0.0533, 0.0533, 0.0533, 0.0533];
const sqExpArdErrD = [
  0.0045, 0.0045, 0.0045, 0.0045, 0.0045, 0.0045, 0.0045, 0.0045, 0.0045, 0.0045,
  0.0035, 0.0035, 0.0035, 0.0035, 0.0035, 0.0035, 0.0035, 0.0035, 0.0035, 0.0035,
  0.0035, 0.0035, 0.0035, 0.0035, 0.0035, 0.0035, 0.0035, 0.0035, 0.0035, 0.0035,
  0.0035, 0.0035, 0.0035, 0.0035, 0.0035, 0.0035, 0.0035, 0.0035, 0.0035, 0.0035,
  0.0035, 0.0035, 0.0035, 0.0035, 0.0035, 0.0035, 0.0035, 0.0035, 0.0035, 0.0035,
  0.0035, 0.0035, 0.0035, 0.0035, 0.0035, 0.0035, 0.0035, 0.0035, 0.0035, 0.0035,
  0.0035, 0.0035, 0.0035, 0.0035, 0.0035, 0.0035, 0.0035, 0.0035, 0.0035, 0.0035,
  0.0035, 0.0035, 0.0035, 0.0035, 0.0035, 0.0035, 0.0035, 0.0035, 0.0035, 0.0035,
  0.0035, 0.0035, 0.0035, 0.0035, 0.0035, 0.0035, 0.0035, 0.0035, 0.0035, 0.0035,
  0.0035, 0.0035, 0.0035, 0.0035, 0.0035, 0.0035, 0.0035, 0.0035, 0.0035, 0.0035];
const matern32D = [
  0.1360, 0.1200, 0.1050, 0.0940, 0.0820, 0.0770, 0.0740, 0.0720, 0.0705, 0.0690,
  0.0690, 0.0690, 0.0686, 0.0686, 0.0686, 0.0686, 0.0686, 0.0686, 0.0686, 0.0686,
  0.0686, 0.0686, 0.0686, 0.0686, 0.0650, 0.0650, 0.0650, 0.0650, 0.0650, 0.0650,
  0.0650, 0.0650, 0.0650, 0.0640, 0.0640, 0.0640, 0.0640, 0.0640, 0.0640, 0.0620,
  0.0620, 0.0620, 0.0620, 0.0620, 0.0620, 0.0620, 0.0620, 0.0620, 0.0620, 0.0590,
  0.0590, 0.0590, 0.0590, 0.0590, 0.0590, 0.0590, 0.0590, 0.0590, 0.0590, 0.0590,
  0.0590, 0.0590, 0.0590, 0.0590, 0.0590, 0.0590, 0.0590, 0.0590, 0.0565, 0.0565,
  0.0565, 0.0565, 0.0565, 0.0565, 0.0565, 0.0565, 0.0565, 0.0565, 0.0535, 0.0535,
  0.0535, 0.0535, 0.0535, 0.0535, 0.0535, 0.0535, 0.0535, 0.0535, 0.0535, 0.0535,
  0.0535, 0.0535, 0.0535, 0.0530, 0.0530, 0.0530, 0.0515, 0.0515, 0.0515, 0.0500];
const matern32ErrD = [
  0.0045, 0.0045, 0.0045, 0.0045, 0.0045, 0.0045, 0.0045, 0.0045, 0.0045, 0.0045,
  0.0035, 0.0035, 0.0035, 0.0035, 0.0035, 0.0035, 0.0035, 0.0035, 0.0035, 0.0035,
  0.0035, 0.0035, 0.0035, 0.0035, 0.0035, 0.0035, 0.0035, 0.0035, 0.0035, 0.0035,
  0.0035, 0.0035, 0.0035, 0.0035, 0.0035, 0.0035, 0.0035, 0.0035, 0.0035, 0.0035,
  0.0035, 0.0035, 0.0035, 0.0035, 0.0035, 0.0035, 0.0035, 0.0035, 0.0035, 0.0035,
  0.0035, 0.0035, 0.0035, 0.0035, 0.0035, 0.0035, 0.0035, 0.0035, 0.0035, 0.0035,
  0.0035, 0.0035, 0.0035, 0.0035, 0.0035, 0.0035, 0.0035, 0.0035, 0.0035, 0.0035,
  0.0035, 0.0035, 0.0035, 0.0035, 0.0035, 0.0035, 0.0035, 0.0035, 0.0035, 0.0035,
  0.0035, 0.0035, 0.0035, 0.0035, 0.0035, 0.0035, 0.0035, 0.0035, 0.0035, 0.0035,
  0.0035, 0.0035, 0.0035, 0.0035, 0.0035, 0.0035, 0.0035, 0.0035, 0.0035, 0.0035];
const matern52D = [
  0.1380, 0.1160, 0.1080, 0.1040, 0.0950, 0.0920, 0.0916, 0.0910, 0.0867, 0.0827,
  0.0788, 0.0788, 0.0788, 0.0738, 0.0738, 0.0738, 0.0738, 0.0738, 0.0738, 0.0738,
  0.0738, 0.0738, 0.0738, 0.0738, 0.0660, 0.0600, 0.0600, 0.0600, 0.0600, 0.0600,
  0.0600, 0.0600, 0.0600, 0.0600, 0.0600, 0.0600, 0.0600, 0.0600, 0.0600, 0.0565,
  0.0565, 0.0565, 0.0565, 0.0565, 0.0565, 0.0565, 0.0565, 0.0565, 0.0565, 0.0565,
  0.0565, 0.0565, 0.0565, 0.0565, 0.0565, 0.0565, 0.0565, 0.0565, 0.0565, 0.0565,
  0.0565, 0.0565, 0.0565, 0.0565, 0.0536, 0.0536, 0.0536, 0.0536, 0.0536, 0.0536,
  0.0536, 0.0500, 0.0500, 0.0500, 0.0500, 0.0500, 0.0500, 0.0500, 0.0500, 0.0500,
  0.0500, 0.0500, 0.0500, 0.0500, 0.0500, 0.0500, 0.0500, 0.0500, 0.0500, 0.0500,
  0.0500, 0.0500, 0.0500, 0.0500, 0.0500, 0.0500, 0.0500, 0.0495, 0.0490, 0.0470];
const matern52ErrD = [
  0.0045, 0.0045, 0.0045, 0.0045, 0.0045, 0.0045, 0.0045, 0.0045, 0.0045, 0.0045,
  0.0035, 0.0035, 0.0035, 0.0035, 0.0035, 0.0035, 0.0035, 0.0035, 0.0035, 0.0035,
  0.0035, 0.0035, 0.0035, 0.0035, 0.0035, 0.0035, 0.0035, 0.0035, 0.0035, 0.0035,
  0.0035, 0.0035, 0.0035, 0.0035, 0.0035, 0.0035, 0.0035, 0.0035, 0.0035, 0.0035,
  0.0035, 0.0035, 0.0035, 0.0035, 0.0035, 0.0035, 0.0035, 0.0035, 0.0035, 0.0035,
  0.0035, 0.0035, 0.0035, 0.0035, 0.0035, 0.0035, 0.0035, 0.0035, 0.0035, 0.0035,
  0.0035, 0.0035, 0.0035, 0.0035, 0.0035, 0.0035, 0.0035, 0.0035, 0.0035, 0.0035,
  0.0035, 0.0035, 0.0035, 0.0035, 0.0035, 0.0035, 0.0035, 0.0035, 0.0035, 0.0035,
  0.0035, 0.0035, 0.0035, 0.0035, 0.0035, 0.0035, 0.0035, 0.0035, 0.0035, 0.0035,
  0.0035, 0.0035, 0.0035, 0.0035, 0.0035, 0.0035, 0.0035, 0.0035, 0.0035, 0.0030];

Chart.defaults.font.family = "'DejaVu Sans', sans-serif";
Chart.defaults.color = '#000';

// vertical error bars, drawn just under each dataset's line
const errorBars = {
    id: 'errorBars',
    beforeDatasetDraw(chart, args, opts) {
        const ds = chart.data.datasets[args.index];
        if (!ds.errors) {
            return;
        }
        const yScale = chart.scales.y;
        const area = chart.chartArea;
        const ctx = chart.ctx;
        ctx.save();
        ctx.beginPath();
        ctx.rect(area.left, area.top, area.right - area.left, area.bottom - area.top);
        ctx.clip();
        ctx.globalAlpha = opts.alpha;
        ctx.strokeStyle = ds.borderColor;
        ctx.lineWidth = opts.width;
        ctx.beginPath();
        args.meta.data.forEach((pt, i) => {
            const v = ds.data[i];
            const e = ds.errors[i];
            ctx.moveTo(pt.x, yScale.getPixelForValue(v - e));
            ctx.lineTo(pt.x, yScale.getPixelForValue(v + e));
        });
        ctx.stroke();
        ctx.restore();
    }
};

// axes frame + matplotlib style legend box
const boxLegend = {
    id: 'boxLegend',
    afterDraw(chart, args, opts) {
        const ctx = chart.ctx;
        const a = chart.chartArea;
        ctx.save();
        ctx.strokeStyle = '#1a1a1a';
        ctx.lineWidth = 2.5;
        ctx.strokeRect(a.left, a.top, a.right - a.left, a.bottom - a.top);

        const b = opts.box;
        ctx.fillStyle = 'rgba(255,255,255,0.85)';
        ctx.strokeStyle = '#cfcfcf';
        ctx.lineWidth = 2;
        ctx.beginPath();
        ctx.roundRect(b.x, b.y, b.w, b.h, 6);
        ctx.fill();
        ctx.stroke();

        ctx.font = `${opts.fontSize}px 'DejaVu Sans', sans-serif`;
        ctx.textBaseline = 'middle';
        chart.data.datasets.forEach((ds, i) => {
            const y = opts.first + i * opts.step;
            const [h0, h1] = opts.handle;
            const cx = (h0 + h1) / 2;
            ctx.strokeStyle = ds.borderColor;
            ctx.lineWidth = opts.lineWidth;
            ctx.beginPath();
            ctx.moveTo(h0, y);
            ctx.lineTo(h1, y);
            ctx.stroke();
            ctx.lineWidth = opts.errWidth;
            ctx.beginPath();
            ctx.moveTo(cx, y - opts.vHalf);
            ctx.lineTo(cx, y + opts.vHalf);
            ctx.stroke();
            if (opts.markers) {
                ctx.lineWidth = 5;
                ctx.beginPath();
                ctx.moveTo(cx - 9, y);
                ctx.lineTo(cx + 9, y);
                ctx.moveTo(cx, y - 10);
                ctx.lineTo(cx, y + 10);
                ctx.stroke();
            }
            ctx.fillStyle = '#000';
            ctx.fillText(ds.label, opts.textX, y + 1);
        });
        ctx.restore();
    }
};

function buildChart(id, cfg) {
    const n = cfg.series.length;
    return new Chart(document.getElementById(id), {
        type: 'line',
        data: {
            labels: cfg.labels,
            datasets: cfg.series.map((s, i) => ({
                label: s.label,
                data: s.data,
                errors: s.errors,
                borderColor: s.color,
                backgroundColor: s.color,
                borderWidth: cfg.lineWidth,
                pointRadius: cfg.markers ? 7 : 0,
                pointStyle: 'cross',
                pointBorderWidth: 3.5,
                pointBorderColor: s.color,
                tension: 0,
                fill: false,
                order: n - 1 - i
            }))
        },
        options: {
            responsive: false,
            animation: false,
            events: [],
            layout: { padding: cfg.padding },
            plugins: {
                legend: { display: false },
                tooltip: { enabled: false },
                errorBars: { width: cfg.errWidth, alpha: cfg.errAlpha },
                boxLegend: cfg.legend
            },
            scales: {
                x: {
                    type: 'linear',
                    min: cfg.xMin,
                    max: cfg.xMax,
                    afterFit(scale) { scale.height = cfg.xHeight; },
                    afterBuildTicks(scale) { scale.ticks = cfg.xTicks.map(v => ({ value: v })); },
                    ticks: { autoSkip: false, maxRotation: 0, padding: 8, color: '#000', font: { size: 27 },
                        callback: v => String(v) },
                    grid: { drawOnChartArea: false, tickLength: 10, tickWidth: 2.5, tickColor: '#222' },
                    border: { display: false },
                    title: { display: true, text: 'Function Evaluations', color: '#000', font: { size: 29.5 } }
                },
                y: {
                    type: 'linear',
                    min: cfg.yMin,
                    max: cfg.yMax,
                    afterFit(scale) { scale.width = cfg.yWidth; },
                    afterBuildTicks(scale) { scale.ticks = cfg.yTicks.map(v => ({ value: v })); },
                    ticks: { autoSkip: false, padding: cfg.yPad, color: '#000', font: { size: 27 },
                        callback: v => (cfg.yDigits ? v.toFixed(cfg.yDigits) : String(v)) },
                    grid: { drawOnChartArea: false, tickLength: 10, tickWidth: 2.5, tickColor: '#222' },
                    border: { display: false },
                    title: { display: true, text: 'Min Function Value', color: '#000', font: { size: 29.5 } }
                }
            }
        },
        plugins: [errorBars, boxLegend]
    });
}

buildChart('chartA', {
    labels: evalsA,
    series: [
        { label: 'GP-EI-Opt', data: optA, errors: optErrA, color: '#1f77b4' },
        { label: 'GP-EI-MCMC', data: mcmcA, errors: mcmcErrA, color: '#ff7f0e' },
        { label: 'Random', data: randomA, errors: randomErrA, color: '#2ca02c' },
        { label: 'Tree Parzen Algorithm', data: tpaA, errors: tpaErrA, color: '#d62728' },
        { label: 'GP-UCB', data: ucbA, errors: ucbErrA, color: '#9467bd' }
    ],
    lineWidth: 5, errWidth: 5, errAlpha: 0.85, markers: false,
    xMin: -2.45, xMax: 51.6, yMin: -2.88, yMax: 46.9,
    xTicks: xTicksA, yTicks: yTicksA, yDigits: 0, yPad: 15,
    padding: { left: 48, top: 29, right: 56, bottom: 22 },
    yWidth: 115, xHeight: 101,
    legend: { box: { x: 712, y: 46, w: 447, h: 235 }, first: 73, step: 45.2, handle: [721, 784],
        vHalf: 18, textX: 809, fontSize: 29, lineWidth: 5, errWidth: 4, markers: false }
});

buildChart('chartB', {
    labels: evalsN,
    series: [
        { label: 'GP EI MCMC', data: mcmcB, errors: mcmcErrB, color: '#000000' },
        { label: 'GP EI Opt', data: optB, errors: optErrB, color: '#0000ff' },
        { label: 'GP EI per Sec', data: perSecB, errors: perSecErrB, color: '#ffa500' },
        { label: 'Tree Parzen Algorithm', data: tpaB, errors: tpaErrB, color: '#008000' },
        { label: '3 x GP EI MCMC', data: mcmc3B, errors: mcmc3ErrB, color: '#ff0000' }
    ],
    lineWidth: 5.5, errWidth: 5, errAlpha: 0.9, markers: true,
    xMin: -4.4, xMax: 104.9, yMin: 0.0749, yMax: 0.13,
    xTicks: xTicksN, yTicks: yTicksB, yDigits: 2, yPad: 12,
    padding: { left: 113, top: 46, right: 25, bottom: 25 },
    yWidth: 139, xHeight: 98,
    legend: { box: { x: 864, y: 61, w: 368, h: 201 }, first: 81, step: 38.2, handle: [868, 923],
        vHalf: 13, textX: 942, fontSize: 24.5, lineWidth: 5, errWidth: 3.5, markers: true }
});

buildChart('chartC', {
    labels: evalsN,
    series: [
        { label: 'Random', data: randomC, errors: randomErrC, color: '#ffff00' },
        { label: 'GP EI MCMC', data: mcmcC, errors: mcmcErrC, color: '#000000' },
        { label: 'GP EI per Sec', data: perSecC, errors: perSecErrC, color: '#ffa500' },
        { label: '3 x GP EI MCMC', data: mcmc3C, errors: mcmc3ErrC, color: '#008000' },
        { label: '3 x GP EI perSec', data: perSec3C, errors: perSec3ErrC, color: '#0000ff' }
    ],
    lineWidth: 5.5, errWidth: 5, errAlpha: 0.9, markers: true,
    xMin: -4.15, xMax: 104.9, yMin: 0.0266, yMax: 0.1479,
    xTicks: xTicksN, yTicks: yTicksC, yDigits: 2, yPad: 12,
    padding: { left: 47, top: 37, right: 59, bottom: 35 },
    yWidth: 139, xHeight: 98,
    legend: { box: { x: 868, y: 50, w: 292, h: 200 }, first: 71.8, step: 38.5, handle: [873, 928],
        vHalf: 13, textX: 948, fontSize: 24.5, lineWidth: 5, errWidth: 3.5, markers: true }
});

buildChart('chartD', {
    labels: evalsN,
    series: [
        { label: 'SqExp', data: sqExpD, errors: sqExpErrD, color: '#00ffff' },
        { label: 'SqExp ARD', data: sqExpArdD, errors: sqExpArdErrD, color: '#808000' },
        { label: 'Matern32', data: matern32D, errors: matern32ErrD, color: '#ff7f50' },
        { label: 'Matern52', data: matern52D, errors: matern52ErrD, color: '#da70d6' }
    ],
    lineWidth: 5.5, errWidth: 5, errAlpha: 0.9, markers: true,
    xMin: -4.4, xMax: 104.9, yMin: 0.039, yMax: 0.1532,
    xTicks: xTicksN, yTicks: yTicksD, yDigits: 2, yPad: 12,
    padding: { left: 113, top: 37, right: 25, bottom: 35 },
    yWidth: 139, xHeight: 98,
    legend: { box: { x: 1005, y: 50, w: 226, h: 161 }, first: 70.6, step: 38.2, handle: [1010, 1065],
        vHalf: 13, textX: 1082, fontSize: 24.5, lineWidth: 5, errWidth: 3.5, markers: true }
});
</script>
</body>
</html>
